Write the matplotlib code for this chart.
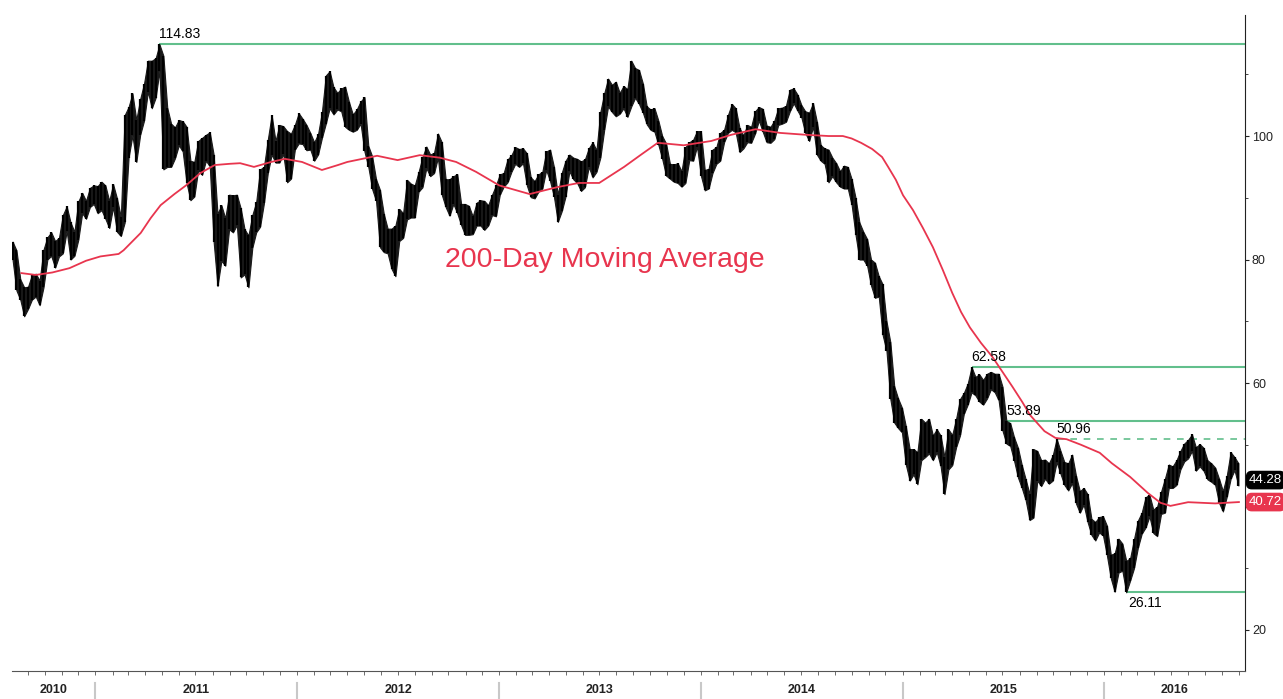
import numpy as np
import pandas as pd
import matplotlib
matplotlib.use("Agg")
import matplotlib.pyplot as plt
import matplotlib.dates as mdates

plt.rcParams["font.family"] = ["Liberation Sans", "DejaVu Sans"]

# weekly high / low, one bar per week (Wednesday of the week), Aug 2010 .. Aug 2016
weekly_high = [
    # 2010
    82.9, 81.5, 76.8, 75.5, 75.6, 77.5, 77.7, 76.6, 81.6, 83.6, 84.4, 83.0, 83.5, 87.2, 88.6, 86.0,
    84.5, 89.4, 90.8, 89.5, 91.6, 92.0,
    # 2011
    91.9, 92.6, 92.0, 89.5, 92.2, 89.9, 86.9, 103.4, 104.7, 106.9, 102.6, 106.0, 108.5, 112.2, 112.2,
    112.6, 114.83, 113.0, 104.6, 102.0, 101.4, 102.6, 102.4, 101.5, 96.0, 95.8, 99.2, 99.7, 100.2,
    100.6, 97.0, 87.4, 88.8, 86.7, 90.5, 90.4, 90.5, 88.3, 84.9, 83.9, 87.2, 89.3, 94.6, 95.0, 99.4,
    103.4, 99.2, 101.8, 101.6, 100.8, 100.4, 101.8,
    # 2012
    103.7, 102.8, 101.8, 100.5, 99.0, 100.3, 103.9, 109.8, 110.5, 107.9, 107.0, 107.7, 108.0, 105.5,
    103.5, 104.3, 105.6, 106.3, 98.4, 96.7, 93.0, 91.3, 87.4, 85.0, 85.0, 85.5, 88.2, 87.5, 92.9,
    92.3, 92.0, 94.2, 96.6, 98.3, 97.0, 97.3, 100.4, 99.0, 93.0, 93.0, 93.5, 93.8, 89.0, 89.0, 88.7,
    87.0, 89.2, 89.6, 89.5, 88.8, 90.5, 92.0,
    # 2013
    93.8, 94.0, 96.2, 96.9, 98.2, 97.9, 98.0, 97.2, 93.3, 92.7, 93.8, 94.2, 97.5, 97.8, 95.0, 90.5,
    94.0, 96.0, 97.0, 96.5, 96.3, 95.9, 96.2, 98.0, 99.0, 97.7, 103.9, 106.9, 109.3, 108.3, 108.8,
    107.0, 108.1, 107.6, 112.2, 111.0, 110.7, 108.5, 104.8, 104.3, 104.5, 102.5, 100.0, 98.8, 95.5,
    95.4, 95.6, 94.3, 98.2, 99.0, 99.4, 100.8,
    # 2014
    100.8, 94.5, 94.7, 97.8, 98.2, 100.5, 101.0, 103.4, 105.2, 104.5, 101.3, 100.1, 101.8, 101.5,
    104.0, 104.7, 104.4, 101.7, 101.5, 102.5, 104.5, 104.6, 104.9, 107.5, 107.7, 106.7, 105.0, 104.0,
    103.8, 105.3, 102.3, 98.5, 98.0, 97.8, 96.5, 95.6, 94.3, 95.2, 95.0, 93.0, 90.0, 86.0, 84.5,
    83.3, 80.0, 79.5, 77.3, 76.0, 70.0, 66.6, 59.5, 57.5,
    # 2015
    56.0, 53.0, 49.3, 49.3, 48.8, 54.2, 53.6, 54.2, 51.5, 52.5, 51.5, 48.0, 52.5, 51.6, 54.2, 57.4,
    58.4, 59.9, 62.58, 61.0, 61.4, 60.5, 61.5, 61.8, 61.5, 61.5, 59.4, 53.89, 53.5, 51.2, 49.5, 46.7,
    44.4, 42.0, 49.3, 49.0, 47.5, 47.6, 47.0, 48.3, 50.96, 49.0, 47.2, 47.0, 48.4, 45.0, 42.5, 43.0,
    42.0, 38.0, 37.5, 38.3, 38.4,
    # 2016
    36.9, 32.2, 32.4, 34.8, 34.0, 31.2, 31.6, 34.7, 37.7, 39.0, 41.5, 41.9, 39.5, 40.0, 42.4, 44.5,
    46.8, 46.5, 47.5, 49.0, 50.2, 50.8, 51.67, 49.6, 50.1, 49.5, 47.5, 47.0, 46.3, 44.5, 42.5, 45.0,
    48.8, 48.0, 47.0,
]
weekly_low = [
    # 2010
    80.0, 75.0, 73.5, 70.8, 72.0, 73.5, 74.0, 72.6, 75.5, 80.0, 80.6, 78.7, 80.5, 81.0, 84.6, 80.0,
    80.6, 83.2, 87.5, 86.6, 88.5, 89.0,
    # 2011
    87.5, 88.0, 86.6, 85.1, 88.5, 84.5, 83.8, 86.0, 96.5, 100.1, 95.8, 100.2, 102.5, 107.2, 104.5,
    106.2, 110.6, 94.6, 95.0, 95.0, 96.4, 98.5, 97.5, 92.4, 89.6, 90.2, 94.5, 93.7, 96.0, 95.1, 82.9,
    75.7, 79.8, 79.0, 84.9, 84.4, 85.6, 77.1, 77.6, 75.5, 81.9, 84.4, 85.3, 89.1, 94.0, 97.0, 95.7,
    95.7, 97.1, 92.5, 93.1, 97.8,
    # 2012
    98.8, 98.7, 97.7, 97.8, 96.0, 97.0, 99.7, 102.0, 104.5, 103.5, 104.3, 104.0, 101.5, 101.0, 100.7,
    101.0, 102.0, 97.5, 95.0, 91.4, 89.5, 82.0, 81.2, 81.0, 78.5, 77.3, 83.0, 83.5, 86.5, 86.8, 86.8,
    91.0, 91.7, 94.8, 93.5, 94.0, 96.5, 90.5, 88.5, 87.1, 89.0, 87.5, 85.6, 84.0, 84.0, 84.1, 85.5,
    85.5, 84.8, 85.5, 87.2, 87.0,
    # 2013
    90.5, 91.8, 92.5, 94.2, 95.5, 95.0, 95.6, 92.0, 90.1, 89.9, 91.0, 91.5, 94.5, 92.7, 90.2, 86.1,
    87.8, 90.2, 94.3, 93.0, 92.4, 91.1, 91.7, 95.0, 93.3, 94.2, 96.5, 101.0, 104.8, 103.9, 103.2,
    103.6, 104.5, 103.1, 104.8, 106.2, 105.2, 103.8, 101.9, 101.0, 100.7, 98.6, 96.3, 93.6, 93.1,
    92.6, 92.4, 91.8, 92.4, 96.1, 96.0, 98.3,
    # 2014
    93.6, 91.2, 91.5, 94.0, 95.5, 96.0, 99.0, 100.5, 101.0, 100.6, 97.4, 98.0, 99.0, 98.9, 100.4,
    102.5, 100.7, 99.0, 98.9, 99.5, 101.8, 102.0, 102.3, 104.0, 105.3, 104.1, 103.0, 100.5, 99.2,
    101.5, 97.0, 96.0, 95.5, 92.5, 93.5, 92.5, 91.8, 91.5, 91.5, 88.8, 84.0, 80.0, 80.0, 79.0, 75.8,
    73.8, 74.0, 67.8, 65.2, 57.4, 53.6, 52.7,
    # 2015
    52.0, 46.8, 44.2, 45.2, 43.6, 47.5, 48.0, 48.6, 47.5, 48.8, 46.5, 42.0, 46.0, 46.7, 49.6, 51.5,
    55.0, 56.5, 58.5, 58.0, 57.0, 56.5, 57.5, 59.0, 58.5, 57.2, 52.3, 50.2, 49.8, 47.4, 44.7, 43.0,
    41.0, 37.8, 38.2, 44.2, 43.3, 44.5, 43.7, 44.2, 47.2, 45.3, 43.5, 42.6, 43.8, 40.5, 39.0, 40.3,
    37.5, 35.4, 34.5, 35.8, 35.3,
    # 2016
    32.1, 28.4, 26.2, 29.3, 29.6, 26.11, 28.0, 30.0, 33.3, 35.6, 36.6, 38.4, 35.7, 35.2, 38.8, 39.0,
    43.0, 43.0, 43.5, 46.0, 47.3, 47.8, 49.0, 45.8, 46.5, 45.8, 44.4, 44.0, 43.5, 40.6, 39.2, 41.6,
    44.5, 45.9, 43.4,
]
week_dates = pd.date_range("2010-08-04", periods=len(weekly_high), freq="7D")

# 200-day moving average
ma_dates = [
    "2010-08-20", "2010-09-15", "2010-10-15", "2010-11-15", "2010-12-15", "2011-01-10", "2011-02-12",
    "2011-02-21", "2011-03-24", "2011-04-11", "2011-04-29", "2011-05-24", "2011-06-14", "2011-07-10",
    "2011-08-05", "2011-09-01", "2011-09-20", "2011-10-15", "2011-11-15", "2011-12-10", "2012-01-10",
    "2012-02-15", "2012-03-15", "2012-04-01", "2012-05-25", "2012-07-01", "2012-08-10", "2012-09-15",
    "2012-10-15", "2012-11-20", "2013-01-01", "2013-02-25", "2013-04-15", "2013-05-25", "2013-07-01",
    "2013-08-15", "2013-09-15", "2013-10-15", "2013-12-01", "2014-01-20", "2014-02-25", "2014-04-10",
    "2014-05-25", "2014-07-10", "2014-08-20", "2014-09-15", "2014-10-01", "2014-10-18", "2014-11-07",
    "2014-11-25", "2014-12-06", "2014-12-20", "2015-01-02", "2015-01-20", "2015-02-07", "2015-02-25",
    "2015-03-15", "2015-04-01", "2015-04-17", "2015-05-03", "2015-05-23", "2015-06-13", "2015-07-01",
    "2015-07-19", "2015-08-06", "2015-08-20", "2015-09-15", "2015-10-05", "2015-10-25", "2015-11-20",
    "2015-12-24", "2016-01-15", "2016-02-17", "2016-03-20", "2016-04-12", "2016-04-30", "2016-06-01",
    "2016-07-20", "2016-09-01",
]
ma_values = [
    77.8, 77.5, 77.9, 78.6, 79.8, 80.5, 80.9,
    81.5, 84.3, 86.7, 88.8, 90.6, 92.0, 94.0,
    95.3, 95.5, 95.6, 95.0, 95.8, 96.3, 95.8,
    94.5, 95.3, 95.8, 96.8, 96.1, 96.9, 96.5,
    95.8, 94.2, 92.0, 90.6, 91.7, 92.4, 92.4,
    95.0, 97.0, 98.9, 98.5, 99.2, 100.2, 101.1,
    100.5, 100.2, 100.0, 100.0, 99.6, 98.9, 97.9,
    96.6, 95.0, 92.9, 90.4, 88.0, 85.1, 82.0,
    78.3, 74.6, 71.5, 69.0, 66.5, 64.2, 61.8,
    59.4, 56.9, 54.8, 52.2, 51.1, 50.9, 50.0,
    48.7, 47.0, 44.8, 42.2, 40.6, 40.1, 40.7,
    40.5, 40.72,
]

solid_levels = [114.83, 62.58, 53.89]
dashed_level = 50.96
low_level = 26.11
last_price = 44.28
last_ma = 40.72

green = "#62bf8c"
red = "#e8354e"

x_start = pd.Timestamp("2010-08-03")
x_end = pd.Timestamp("2016-09-12")

fig = plt.figure(figsize=(12.83, 6.99), dpi=100)
ax = fig.add_axes([12 / 1283, 28 / 699, 1233 / 1283, 656 / 699])

highs = np.array(weekly_high)
lows = np.array(weekly_low)

# price band: high-low range filled, with the weekly bars on top for texture
ax.fill_between(week_dates, lows, highs, color="#1a1a1a", linewidth=0.8, edgecolor="#1a1a1a",
                zorder=2)
ax.vlines(week_dates, lows, highs, color="black", linewidth=1.6, zorder=2)

ax.plot(pd.to_datetime(ma_dates), ma_values, color=red, linewidth=1.3, zorder=3)

# support / resistance lines start at the bar that set them
for lvl in solid_levels:
    i = int(np.argmin(np.abs(highs - lvl)))
    ax.hlines(lvl, week_dates[i], x_end, color=green, linewidth=1.5, zorder=1)
    ax.text(week_dates[i], lvl + 0.5, f"{lvl:.2f}", fontsize=10, ha="left", va="bottom")

i = int(np.argmin(np.abs(highs - dashed_level)))
ax.hlines(dashed_level, week_dates[i], x_end, color=green, linewidth=1.2,
          linestyles=(0, (4, 4)), zorder=1)
ax.text(week_dates[i], dashed_level + 0.5, f"{dashed_level:.2f}", fontsize=10, ha="left", va="bottom")

i = int(np.argmin(lows))
ax.hlines(low_level, week_dates[i], x_end, color=green, linewidth=1.5, zorder=1)
ax.text(week_dates[i] + pd.Timedelta(days=3), low_level - 0.6, f"{low_level:.2f}", fontsize=10,
        ha="left", va="top")

ax.text(0.481, 0.6265, "200-Day Moving Average", transform=ax.transAxes, color=red,
        fontsize=20.5, ha="center", va="center")

# last value tags on the right axis
for val, col in [(last_price, "black"), (last_ma, red)]:
    ax.annotate(f"{val:.2f}", xy=(1.0, val), xycoords=("axes fraction", "data"),
                xytext=(3, 0), textcoords="offset points", color="white", fontsize=9.5,
                ha="left", va="center", annotation_clip=False, zorder=5,
                bbox=dict(boxstyle="round,pad=0.2,rounding_size=0.4", fc=col, ec=col))

ax.set_xlim(x_start, x_end)
ax.set_ylim(13.36, 119.6)

# axes styling
ax.spines["left"].set_visible(False)
ax.spines["top"].set_visible(False)
ax.spines["right"].set_color("#222222")
ax.spines["bottom"].set_color("#555555")
ax.yaxis.tick_right()
ax.set_yticks([20, 40, 60, 80, 100])
ax.set_yticks([30, 50, 70, 90, 110], minor=True)
ax.tick_params(axis="y", which="major", labelsize=9, length=3, pad=2, colors="#222222")
ax.tick_params(axis="y", which="minor", length=2, colors="#222222")

ax.xaxis.set_major_locator(matplotlib.ticker.NullLocator())
ax.xaxis.set_minor_locator(mdates.MonthLocator())
ax.tick_params(axis="x", which="minor", length=3, color="#555555", labelbottom=False)

xt = ax.get_xaxis_transform()
years = [2010, 2011, 2012, 2013, 2014, 2015, 2016]
for y in years:
    left = max(pd.Timestamp(f"{y}-01-01"), x_start)
    right = min(pd.Timestamp(f"{y + 1}-01-01"), x_end)
    if y > years[0]:
        ax.plot([left, left], [-0.018, -0.042], transform=xt, clip_on=False,
                color="#c8c8c8", linewidth=1.5)
    mid = left + (right - left) / 2
    ax.text(mid, -0.029, str(y), transform=xt, fontsize=9, fontweight="bold",
            color="#222222", ha="center", va="center")

fig.savefig("out.png", dpi=100)
